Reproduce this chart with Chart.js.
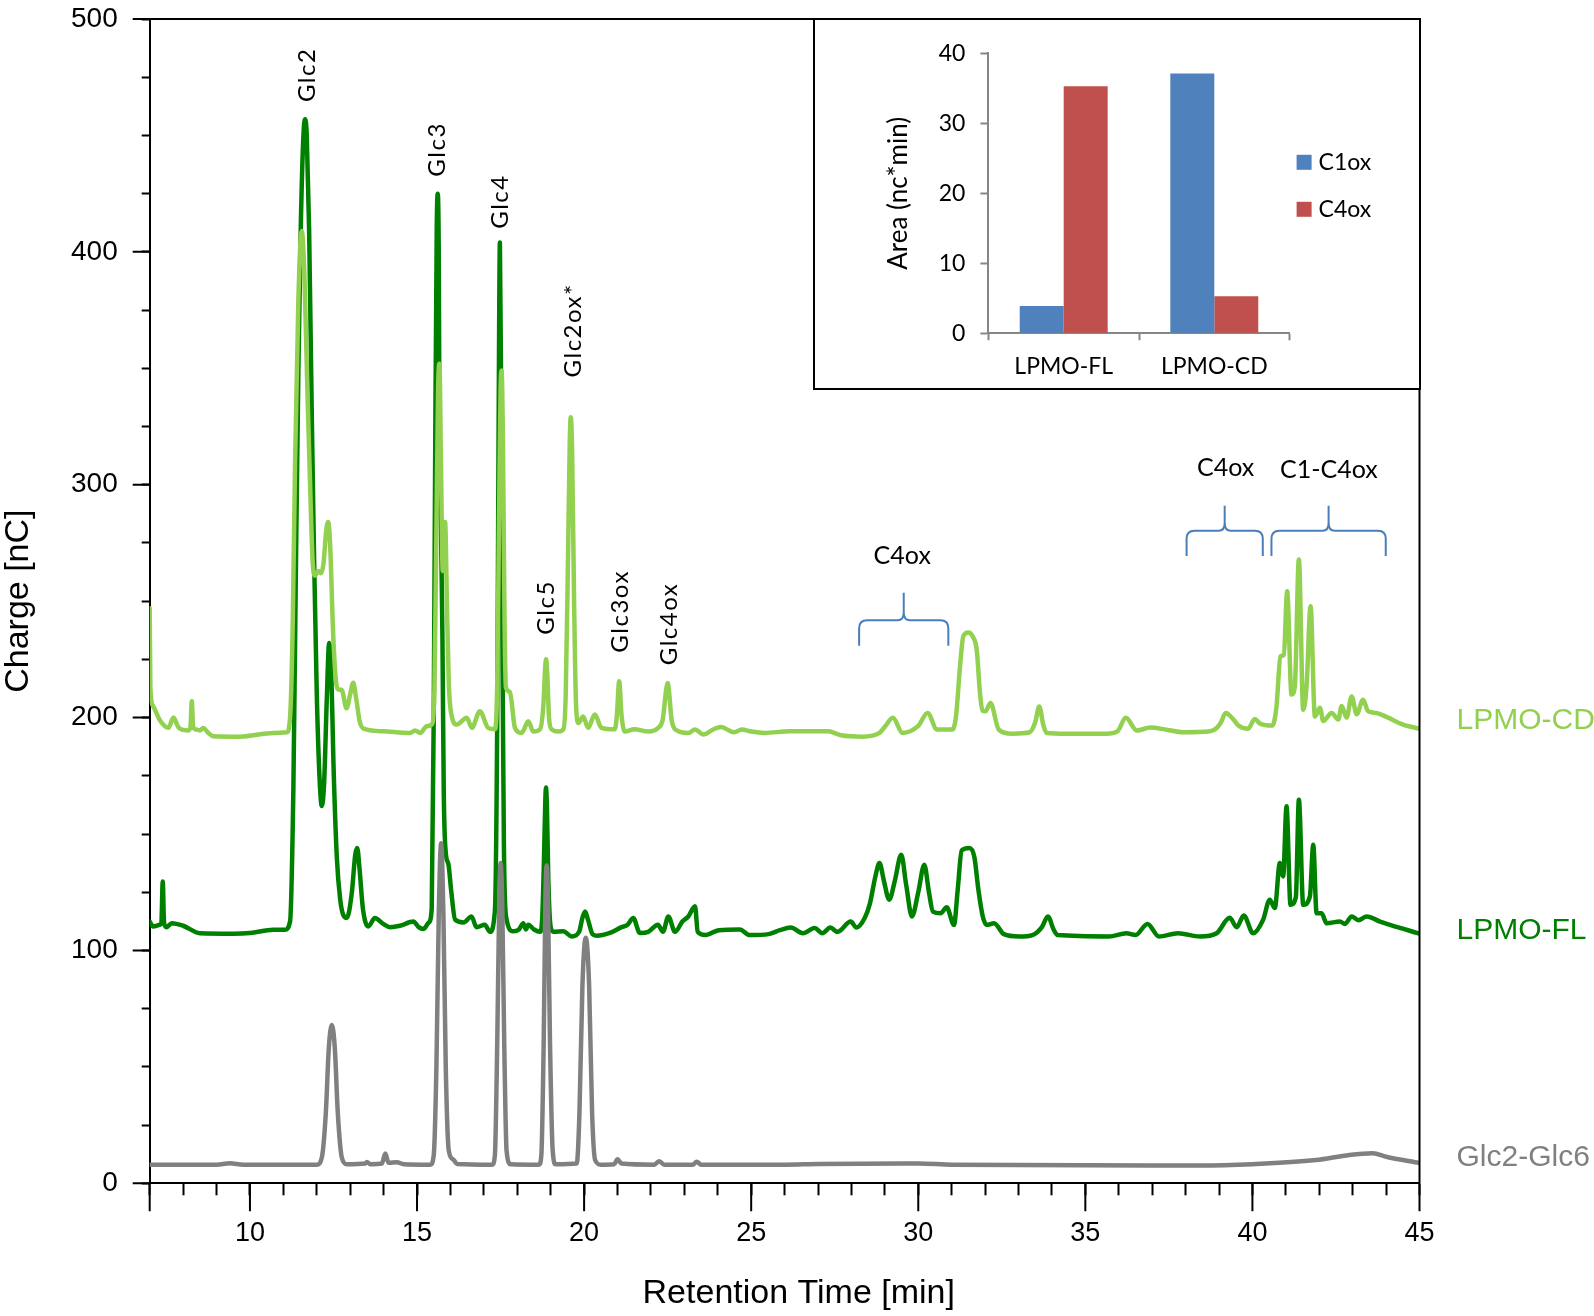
<!DOCTYPE html>
<html>
<head>
<meta charset="utf-8">
<script src="https://cdn.jsdelivr.net/npm/chart.js@4.4.1/dist/chart.umd.min.js"></script>
<style>
  html, body { margin: 0; padding: 0; background: #fff; }
  #wrap { position: relative; width: 1594px; height: 1316px; }
  #main { position: absolute; left: 0; top: 0; }
  #insetBox { position: absolute; left: 813px; top: 18px; width: 608px; height: 372px;
              border: 2px solid #000; box-sizing: border-box; background: #fff; }
  #inset { display: block; }
</style>
</head>
<body>
<div id="wrap">
  <canvas id="main" width="1594" height="1316"></canvas>
  <div id="insetBox"><canvas id="inset" width="604" height="368"></canvas></div>
</div>
<script>
// ---- chromatogram data: [retention time (min), charge (nC)] ----
const glcStd = [
  [7.0, 8], [9.0, 8], [9.4, 8.6], [9.8, 8], [12.0, 8], [12.15, 11], [12.27, 30], [12.36, 58],
  [12.45, 68], [12.54, 58], [12.63, 30], [12.75, 11], [12.9, 8.2], [13.45, 8.5], [13.5, 9.2],
  [13.6, 8.2], [13.95, 8.5], [14.05, 12.8], [14.15, 8.8], [14.4, 9], [14.6, 8.2], [15.4, 8],
  [15.5, 12], [15.58, 50], [15.65, 115], [15.72, 146], [15.79, 115], [15.86, 50], [15.95, 14],
  [16.08, 10.3], [16.2, 8.3], [17.25, 8], [17.33, 12], [17.4, 60], [17.46, 120], [17.5, 137.5],
  [17.55, 120], [17.61, 60], [17.68, 14], [17.8, 8.2], [18.65, 8], [18.72, 12], [18.79, 60],
  [18.84, 120], [18.88, 136.5], [18.92, 120], [18.98, 60], [19.06, 14], [19.15, 8.2], [19.78, 8.5],
  [19.86, 30], [19.95, 85], [20.05, 105.5], [20.15, 85], [20.24, 30], [20.33, 10], [20.5, 8],
  [20.9, 8.2], [21.0, 10.3], [21.12, 8.5], [22.1, 8], [22.24, 9.5], [22.4, 8], [23.25, 8],
  [23.37, 9.3], [23.5, 8], [26.0, 8], [27.0, 8.3], [30.0, 8.5], [31.0, 8], [38.4, 7.6], [40.0, 8.2],
  [41.9, 10], [42.9, 12.2], [43.6, 12.9], [44.0, 11.4], [45.0, 8.7]
];

const lpmoCD = [
  [7.0, 247], [7.02, 213], [7.1, 205], [7.3, 199], [7.56, 195.6], [7.71, 200], [7.85, 196],
  [7.96, 194.8], [8.15, 194.5], [8.22, 196], [8.26, 207], [8.3, 196], [8.36, 195], [8.5, 194.5],
  [8.6, 195.5], [8.75, 193.5], [8.9, 192], [9.7, 191.8], [10.7, 193.4], [11.1, 193.7], [11.2, 200],
  [11.28, 240], [11.35, 310], [11.45, 380], [11.55, 409], [11.63, 390], [11.72, 340], [11.8, 300],
  [11.88, 266], [11.95, 261], [12.05, 263], [12.12, 262], [12.2, 266], [12.28, 280], [12.34, 284],
  [12.4, 274], [12.49, 236], [12.58, 215], [12.66, 212], [12.74, 212], [12.89, 204], [13.0, 210],
  [13.09, 215], [13.18, 208], [13.29, 198], [13.45, 195], [13.99, 194.1], [14.79, 193.4],
  [14.94, 194.5], [15.1, 193.4], [15.29, 196.3], [15.44, 197], [15.52, 212], [15.58, 280],
  [15.63, 340], [15.67, 352], [15.72, 305], [15.77, 263], [15.84, 284], [15.9, 245], [15.95, 215],
  [16.04, 200.5], [16.19, 197], [16.49, 199.9], [16.64, 195.6], [16.88, 202.7], [17.13, 195.6],
  [17.33, 195], [17.4, 215], [17.45, 280], [17.5, 340], [17.53, 349], [17.57, 320], [17.62, 240],
  [17.66, 213], [17.78, 211], [17.93, 195.6], [18.13, 193.4], [18.33, 198.4], [18.48, 194],
  [18.68, 195], [18.78, 205], [18.83, 220], [18.86, 225], [18.9, 218], [18.95, 200], [19.03, 195],
  [19.23, 194], [19.38, 195], [19.45, 210], [19.52, 270], [19.57, 318], [19.6, 329], [19.64, 315],
  [19.7, 250], [19.76, 205], [19.83, 197.7], [19.97, 200.5], [20.12, 195.6], [20.32, 201.3],
  [20.52, 195.6], [20.92, 195], [20.98, 201], [21.05, 215.6], [21.12, 201], [21.22, 194],
  [21.5, 195], [21.92, 194], [22.22, 195.6], [22.35, 199], [22.5, 214.9], [22.62, 199], [22.72, 195],
  [23.12, 193.4], [23.32, 194.9], [23.57, 192.7], [23.86, 194.9], [24.09, 196], [24.49, 193.7],
  [24.72, 194.9], [25.0, 194], [25.4, 193.4], [26.15, 194.1], [26.66, 194.1], [27.3, 194.1],
  [27.69, 192.4], [28.33, 191.8], [28.84, 193.4], [29.01, 196.3], [29.24, 199.9], [29.53, 193.4],
  [29.99, 196.3], [30.28, 202], [30.56, 194.9], [31.02, 194.9], [31.13, 200.6], [31.25, 222],
  [31.35, 235], [31.5, 236.5], [31.62, 235], [31.75, 229], [31.85, 210], [31.92, 203], [32.01, 202.7],
  [32.16, 206.3], [32.41, 194.8], [32.82, 193.1], [33.33, 193.7], [33.5, 198], [33.62, 204.8],
  [33.74, 197], [33.84, 193.4], [34.47, 193.1], [35.62, 193.1], [35.96, 194.1], [36.21, 199.9],
  [36.54, 194.5], [36.94, 195.7], [37.43, 194.8], [37.93, 193.7], [38.73, 194.1], [38.93, 195.5],
  [39.05, 197.7], [39.2, 202], [39.43, 199.2], [39.58, 196.6], [39.87, 195.2], [40.07, 199.4],
  [40.22, 197.5], [40.6, 196.6], [40.72, 204.8], [40.84, 226.3], [40.94, 227], [41.04, 254.3],
  [41.17, 209.9], [41.27, 213.4], [41.39, 267.9], [41.52, 203.4], [41.62, 213.4], [41.74, 247.8],
  [41.87, 200.5], [42.02, 204.2], [42.12, 198.5], [42.37, 202], [42.57, 199.2], [42.67, 205],
  [42.82, 200], [42.97, 209.1], [43.12, 201.4], [43.31, 207.7], [43.46, 202.8], [43.71, 202],
  [44.01, 200.3], [44.51, 197], [45.0, 195.2]
];

const lpmoFL = [
  [7.0, 112.4], [7.1, 110.3], [7.3, 111], [7.35, 112], [7.39, 129.6], [7.43, 112], [7.5, 110],
  [7.66, 111.7], [8.0, 110.6], [8.5, 107.4], [9.5, 107.2], [10.0, 107.5], [10.7, 108.9],
  [11.05, 108.9], [11.2, 112.4], [11.3, 170], [11.38, 270], [11.45, 350], [11.52, 410], [11.6, 450],
  [11.65, 457], [11.7, 450], [11.77, 410], [11.85, 330], [11.92, 268], [12.0, 210], [12.08, 175],
  [12.15, 162], [12.22, 172], [12.3, 208], [12.37, 232], [12.43, 222], [12.5, 180], [12.6, 140],
  [12.7, 122], [12.8, 115], [12.9, 114], [13.05, 125], [13.15, 141], [13.21, 144], [13.28, 135],
  [13.38, 118], [13.54, 110.3], [13.74, 113.9], [13.99, 111.4], [14.19, 110], [14.49, 110.6],
  [14.89, 112.4], [15.05, 110], [15.19, 109.2], [15.35, 112], [15.44, 118], [15.5, 200], [15.55, 330],
  [15.59, 410], [15.62, 425], [15.65, 400], [15.68, 300], [15.72, 280], [15.76, 235], [15.8, 168],
  [15.86, 142], [15.94, 137], [16.02, 126], [16.14, 113.2], [16.39, 112], [16.63, 114.6],
  [16.78, 110], [17.03, 111], [17.18, 108], [17.33, 117], [17.4, 200], [17.44, 320], [17.48, 404],
  [17.52, 330], [17.56, 220], [17.6, 145], [17.66, 115], [17.88, 108.2], [18.05, 109], [18.18, 111.7],
  [18.26, 109], [18.33, 111], [18.5, 109], [18.68, 108], [18.75, 115], [18.8, 140], [18.84, 165],
  [18.86, 170], [18.89, 160], [18.93, 130], [19.0, 110], [19.08, 108], [19.38, 108.2], [19.63, 106],
  [19.85, 108], [19.95, 114], [20.03, 116.7], [20.12, 113], [20.25, 107], [20.37, 106.3],
  [20.77, 107.5], [21.12, 110], [21.3, 111], [21.47, 113.9], [21.67, 107.5], [21.92, 108],
  [22.21, 111], [22.36, 108], [22.52, 114.6], [22.72, 108], [22.94, 112.4], [23.12, 114.6],
  [23.32, 119], [23.4, 108], [23.63, 106.6], [24.03, 108.7], [24.66, 109], [24.95, 106.6],
  [25.52, 107], [25.86, 108.7], [26.18, 109.8], [26.55, 107.4], [26.9, 109.6], [27.13, 107.4],
  [27.37, 109.8], [27.58, 108], [27.98, 112.4], [28.15, 109.8], [28.4, 114], [28.55, 120],
  [28.72, 132], [28.84, 137.5], [28.97, 130], [29.13, 121.8], [29.3, 130], [29.49, 141.1],
  [29.64, 128], [29.81, 114.6], [30.0, 125], [30.18, 136.8], [30.32, 125], [30.44, 116.7],
  [30.67, 116], [30.85, 118.5], [31.07, 111], [31.18, 126], [31.3, 143], [31.53, 144], [31.68, 140],
  [31.8, 126], [31.93, 114.6], [32.05, 111], [32.27, 111.7], [32.56, 107], [33.02, 106],
  [33.42, 106.6], [33.7, 110], [33.88, 114.6], [34.05, 109], [34.17, 106.6], [35.71, 106],
  [36.23, 107.4], [36.5, 106.6], [36.86, 111.4], [37.2, 106], [37.77, 107.4], [38.43, 106],
  [38.93, 107.4], [39.32, 114], [39.53, 110], [39.74, 115], [40.02, 107.4], [40.32, 113.2],
  [40.52, 121.8], [40.67, 118.2], [40.82, 137.5], [40.92, 131.8], [41.02, 161.9], [41.14, 119.6],
  [41.3, 123], [41.39, 164.7], [41.52, 119.6], [41.72, 123.2], [41.82, 145.4], [41.92, 116],
  [42.07, 116], [42.22, 111.7], [42.62, 112.4], [42.77, 111.4], [42.97, 114.6], [43.17, 113],
  [43.42, 114.6], [43.82, 112.4], [44.12, 111], [45.0, 107.2]
];

// ---- inset bar data ----
const insetCategories = ['LPMO-FL', 'LPMO-CD'];
const c1ox = [3.9, 37.1];
const c4ox = [35.3, 5.3];

// ---- annotations (data coordinates) ----
const peakLabels = [
  ['Glc2', 11.71, 476], ['Glc3', 15.61, 444], ['Glc4', 17.5, 421.6], ['Glc2ox*', 19.67, 366.3],
  ['Glc5', 18.86, 247.3], ['Glc3ox', 21.09, 245.6], ['Glc4ox', 22.55, 240.2]
];
const regionLabels = [['C4ox', 29.52, 269.3], ['C4ox', 39.2, 307.3], ['C1-C4ox', 42.29, 306.4]];
// start, end, leg bottom, bar, tip
const brackets = [
  [28.23, 30.9, 230.9, 241.8, 253.6],
  [38.03, 40.31, 269.4, 280.2, 291],
  [40.57, 43.99, 269.4, 280.2, 291]
];
const seriesLabelY = { 'LPMO-CD': 198.5, 'LPMO-FL': 108.6, 'Glc2-Glc6': 11 };

const SANS = "'Liberation Sans', Arial, sans-serif";
Chart.defaults.font.family = SANS;
Chart.defaults.color = '#000';

const toXY = pts => pts.map(([x, y]) => ({ x, y }));

// box top/right + long major ticks
const framePlugin = {
  id: 'frame',
  afterDraw(chart) {
    const { ctx, chartArea: a, scales: { x, y } } = chart;
    ctx.save();
    ctx.strokeStyle = '#000';
    ctx.lineWidth = 2;
    ctx.beginPath();
    ctx.moveTo(a.left, a.top);
    ctx.lineTo(a.right, a.top);
    ctx.lineTo(a.right, a.bottom);
    x.ticks.forEach(t => {
      if (t.value % 5 === 0 || t.value === x.min) {
        const px = x.getPixelForValue(t.value);
        ctx.moveTo(px, a.bottom);
        ctx.lineTo(px, a.bottom + 28);
      }
    });
    y.ticks.forEach(t => {
      if (t.value % 100 === 0) {
        const py = y.getPixelForValue(t.value);
        ctx.moveTo(a.left - 17, py);
        ctx.lineTo(a.left, py);
      }
    });
    ctx.stroke();
    ctx.restore();
  }
};

const annotationPlugin = {
  id: 'annotations',
  afterDraw(chart) {
    const { ctx, chartArea: a, scales: { x, y } } = chart;
    ctx.save();
    ctx.fillStyle = '#000';
    ctx.textAlign = 'center';
    ctx.textBaseline = 'middle';

    // rotated peak names
    ctx.font = '24px Lato';
    ctx.letterSpacing = '1.5px';
    peakLabels.forEach(([text, t, v]) => {
      ctx.save();
      ctx.translate(x.getPixelForValue(t), y.getPixelForValue(v));
      ctx.rotate(-Math.PI / 2);
      ctx.fillText(text, 0, 0);
      ctx.restore();
    });
    ctx.letterSpacing = '0px';

    ctx.font = '25px Lato';
    regionLabels.forEach(([text, t, v]) => {
      ctx.fillText(text, x.getPixelForValue(t), y.getPixelForValue(v));
    });

    // curly brackets
    ctx.strokeStyle = '#4A7EBB';
    ctx.lineWidth = 2;
    brackets.forEach(([t0, t1, vLeg, vBar, vTip]) => {
      const x0 = x.getPixelForValue(t0), x1 = x.getPixelForValue(t1), xm = (x0 + x1) / 2;
      const yLeg = y.getPixelForValue(vLeg), yBar = y.getPixelForValue(vBar), yTip = y.getPixelForValue(vTip);
      ctx.beginPath();
      ctx.moveTo(x0, yLeg);
      ctx.lineTo(x0, yBar + 8);
      ctx.quadraticCurveTo(x0, yBar, x0 + 8, yBar);
      ctx.lineTo(xm - 6, yBar);
      ctx.quadraticCurveTo(xm, yBar, xm, yBar - 8);
      ctx.lineTo(xm, yTip);
      ctx.moveTo(xm, yBar - 8);
      ctx.quadraticCurveTo(xm, yBar, xm + 6, yBar);
      ctx.lineTo(x1 - 8, yBar);
      ctx.quadraticCurveTo(x1, yBar, x1, yBar + 8);
      ctx.lineTo(x1, yLeg);
      ctx.stroke();
    });

    // series names at the right
    ctx.font = '30px ' + SANS;
    ctx.textAlign = 'left';
    chart.data.datasets.forEach(ds => {
      ctx.fillStyle = ds.borderColor;
      ctx.fillText(ds.label, a.right + 37, y.getPixelForValue(seriesLabelY[ds.label]));
    });
    ctx.restore();
  }
};

new Chart(document.getElementById('main'), {
  type: 'line',
  data: {
    datasets: [
      { label: 'Glc2-Glc6', data: toXY(glcStd), borderColor: '#808080' },
      { label: 'LPMO-CD', data: toXY(lpmoCD), borderColor: '#92D050' },
      { label: 'LPMO-FL', data: toXY(lpmoFL), borderColor: '#008000' }
    ]
  },
  options: {
    responsive: false,
    animation: false,
    events: [],
    elements: {
      point: { radius: 0 },
      line: { borderWidth: 4.5, cubicInterpolationMode: 'monotone', borderJoinStyle: 'round',
              borderCapStyle: 'round', fill: false }
    },
    layout: { autoPadding: false, padding: { top: 19, right: 174.5, left: 0, bottom: 0 } },
    plugins: { legend: { display: false }, tooltip: { enabled: false } },
    scales: {
      x: {
        type: 'linear', min: 7, max: 45,
        ticks: { stepSize: 1, maxTicksLimit: 100, autoSkip: false, maxRotation: 0, padding: 22,
                 font: { size: 27 }, callback: v => (v % 5 === 0 ? v : '') },
        grid: { drawOnChartArea: false, tickLength: 12, tickWidth: 2, tickColor: '#000' },
        border: { color: '#000', width: 2 },
        title: { display: true, text: '\u00a0\u00a0\u00a0Retention Time [min]', font: { size: 34 },
                 padding: { top: 0, bottom: 2 } },
        afterFit: s => { s.height = 132.7; }
      },
      y: {
        min: 0, max: 500,
        ticks: { stepSize: 25, maxTicksLimit: 100, autoSkip: false, padding: 24,
                 font: { size: 28 }, callback: v => (v % 100 === 0 ? v : '') },
        grid: { drawOnChartArea: false, tickLength: 8, tickWidth: 2, tickColor: '#000' },
        border: { color: '#000', width: 2 },
        title: { display: true, text: 'Charge [nC]', font: { size: 34, lineHeight: 1.1 }, padding: { top: 0, bottom: 0 } },
        afterFit: s => { s.width = 149.7; s.paddingTop = 0; s.paddingBottom = 0; }
      }
    }
  },
  plugins: [framePlugin, annotationPlugin]
});

// ---- inset ----
const insetLegend = {
  id: 'insetLegend',
  afterDraw(chart) {
    const { ctx, chartArea: a } = chart;
    ctx.save();
    ctx.font = '23px Lato';
    ctx.textBaseline = 'middle';
    chart.data.datasets.forEach((ds, i) => {
      const yc = a.top + 109 + i * 47;
      ctx.fillStyle = ds.backgroundColor;
      ctx.fillRect(a.right + 7, yc - 7.5, 15, 15);
      ctx.fillStyle = '#000';
      ctx.fillText(ds.label, a.right + 29, yc);
    });
    ctx.restore();
  }
};

const insetFont = { family: 'Lato', size: 23 };
new Chart(document.getElementById('inset'), {
  type: 'bar',
  data: {
    labels: insetCategories,
    datasets: [
      { label: 'C1ox', data: c1ox, backgroundColor: '#4F81BD' },
      { label: 'C4ox', data: c4ox, backgroundColor: '#C0504D' }
    ]
  },
  options: {
    responsive: false,
    animation: false,
    events: [],
    categoryPercentage: 0.584,
    barPercentage: 1.0,
    layout: { autoPadding: false, padding: { top: 33.3, right: 129.4, left: 0, bottom: 0 } },
    plugins: { legend: { display: false }, tooltip: { enabled: false } },
    scales: {
      x: {
        grid: { offset: true, drawOnChartArea: false, tickLength: 7, tickWidth: 2, tickColor: '#868686' },
        border: { color: '#868686', width: 2 },
        ticks: { font: insetFont, padding: 12 },
        afterFit: s => { s.height = 54.7; }
      },
      y: {
        min: 0, max: 40,
        ticks: { stepSize: 10, font: insetFont, padding: 15 },
        grid: { drawOnChartArea: false, tickLength: 8, tickWidth: 2, tickColor: '#868686' },
        border: { color: '#868686', width: 2 },
        title: { display: true, text: 'Area (nc*min)', font: { family: 'Lato', size: 26 }, padding: { top: 68, bottom: 0 } },
        afterFit: s => { s.width = 173.4; s.paddingTop = 0; s.paddingBottom = 0; }
      }
    }
  },
  plugins: [insetLegend]
});
</script>
</body>
</html>
